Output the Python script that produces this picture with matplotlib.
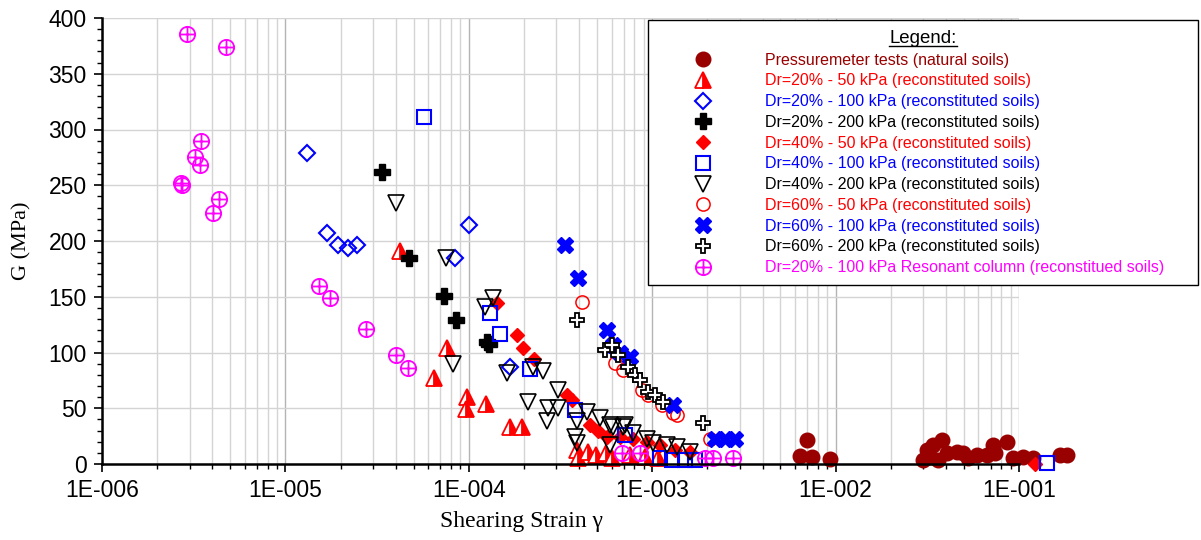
import matplotlib.pyplot as plt
from matplotlib.lines import Line2D
from matplotlib.path import Path
from matplotlib.transforms import IdentityTransform
from matplotlib.ticker import LogLocator, MultipleLocator, FuncFormatter, NullFormatter
import numpy as np

plt.rcParams['font.family'] = ['Liberation Sans', 'DejaVu Sans']

# ---- data: shear modulus G (MPa) vs shearing strain ----
pm_strain = [6.4e-3, 6.98e-3, 7.43e-3, 9.3e-3, 3.0e-2, 3.15e-2, 3.27e-2, 3.4e-2, 3.8e-2,
             3.61e-2, 4.05e-2, 4.59e-2, 4.95e-2, 5.27e-2, 5.9e-2, 6.7e-2, 7.21e-2, 7.4e-2,
             8.6e-2, 9.27e-2, 1.05e-1, 1.19e-1, 1.67e-1, 1.83e-1]
pm_G = [7, 21.5, 6, 4.5, 3.6, 12.6, 6, 17, 21.5,
        3.6, 10, 11, 10, 5.4, 8, 8, 17, 10,
        20, 5.4, 6, 5.4, 8, 8]

d20_50_strain = [4.22e-5, 7.6e-5, 6.46e-5, 9.78e-5, 9.66e-5, 1.24e-4, 1.68e-4, 1.95e-4,
                 3.89e-4, 3.95e-4, 4.47e-4, 4.94e-4, 5.6e-4, 6.04e-4, 7.57e-4, 9.14e-4, 1.08e-3]
d20_50_G = [191, 104, 77, 60, 49, 54, 33, 33,
            13, 5, 11, 8, 10, 5, 8, 6, 5]

d20_100_strain = [1.31e-5, 1.69e-5, 1.94e-5, 2.19e-5, 2.46e-5, 1.0e-4, 8.41e-5, 1.68e-4]
d20_100_G = [279, 207, 196, 194, 196, 214, 185, 87]

d20_200_strain = [3.36e-5, 4.72e-5, 7.33e-5, 8.51e-5, 1.26e-4, 1.29e-4]
d20_200_G = [262, 185, 151, 129, 109, 108]

d40_50_strain = [1.43e-4, 1.83e-4, 1.98e-4, 2.27e-4, 3.43e-4, 3.65e-4, 4.58e-4, 5.06e-4,
                 5.67e-4, 6.67e-4, 7.85e-4, 9.37e-4, 1.1e-3, 1.33e-3, 1.61e-3, 1.22e-1]
d40_50_G = [144, 116, 104, 94, 62, 57, 35, 30,
            24, 24, 22, 20, 17, 13, 11, 0]

d40_100_strain = [5.7e-5, 1.31e-4, 1.48e-4, 2.16e-4, 3.79e-4, 7.11e-4, 1.1e-3, 1.28e-3,
                  1.51e-3, 1.71e-3, 1.42e-1]
d40_100_G = [311, 135, 117, 85, 48, 26, 5, 4, 4, 4, 1]

d40_200_strain = [4.01e-5, 7.51e-5, 1.36e-4, 1.23e-4, 8.2e-5, 1.62e-4, 2.24e-4, 2.54e-4,
                  2.1e-4, 3.06e-4, 2.7e-4, 3.06e-4, 2.67e-4, 3.89e-4, 4.41e-4, 5.19e-4,
                  3.79e-4, 3.89e-4, 5.89e-4, 7.11e-4, 5.89e-4, 7.85e-4, 6.11e-4, 6.93e-4,
                  9.37e-4, 1.01e-3, 1.2e-3, 1.37e-3, 1.61e-3]
d40_200_G = [234, 185, 149, 141, 90, 82, 87, 83,
             56, 66, 50, 50, 39, 39, 47, 41,
             24, 19, 35, 35, 17, 28, 33, 33,
             22, 19, 17, 15, 11]

d60_50_strain = [4.14e-4, 6.27e-4, 6.93e-4, 8.8e-4, 9.49e-4, 1.13e-3, 1.3e-3, 1.37e-3, 2.07e-3]
d60_50_G = [145, 91, 84, 66, 62, 53, 46, 44, 22]

d60_100_strain = [3.35e-4, 3.94e-4, 5.67e-4, 6.11e-4, 6.67e-4, 7.57e-4, 1.3e-3,
                  2.2e-3, 2.49e-3, 2.83e-3]
d60_100_G = [196, 167, 120, 107, 100, 96, 53, 22, 22, 22]

d60_200_strain = [3.89e-4, 5.53e-4, 6.04e-4, 6.51e-4, 7.38e-4, 8.06e-4, 8.58e-4, 9.49e-4,
                  1.04e-3, 1.15e-3, 1.89e-3]
d60_200_G = [129, 102, 107, 98, 87, 80, 75, 65, 62, 56, 37]

rc_strain = [2.9e-6, 4.75e-6, 3.47e-6, 3.21e-6, 3.42e-6, 2.7e-6, 2.73e-6, 4.35e-6, 4.03e-6,
             1.52e-5, 1.75e-5, 2.75e-5, 4.01e-5, 4.66e-5, 6.84e-4, 8.58e-4, 1.94e-3,
             2.14e-3, 2.76e-3]
rc_G = [386, 374, 290, 275, 268, 252, 250, 238, 225,
        160, 149, 121, 98, 86, 10, 10, 5.4,
        5.4, 5.4]

labels = ['Pressuremeter tests (natural soils)',
          'Dr=20% - 50 kPa (reconstituted soils)',
          'Dr=20% - 100 kPa (reconstituted soils)',
          'Dr=20% - 200 kPa (reconstituted soils)',
          'Dr=40% - 50 kPa (reconstituted soils)',
          'Dr=40% - 100 kPa (reconstituted soils)',
          'Dr=40% - 200 kPa (reconstituted soils)',
          'Dr=60% - 50 kPa (reconstituted soils)',
          'Dr=60% - 100 kPa (reconstituted soils)',
          'Dr=60% - 200 kPa (reconstituted soils)',
          'Dr=20% - 100 kPa Resonant column (reconstitued soils)']
label_colors = ['#990000', 'red', 'blue', 'black', 'red', 'blue', 'black',
                'red', 'blue', 'black', 'magenta']

# circle with a cross inside
oplus = Path.make_compound_path(
    Path.unit_circle(),
    Path([(-1, 0), (1, 0)], [Path.MOVETO, Path.LINETO]),
    Path([(0, -1), (0, 1)], [Path.MOVETO, Path.LINETO]))

fig = plt.figure(figsize=(12.01, 5.40), dpi=100)
ax = fig.add_axes([102/1201, 76/540, 917/1201, 446/540])

kw = dict(ls='none', clip_on=False)
h = []
h += ax.plot(pm_strain, pm_G, marker='o', ms=10.5, mfc='#990000', mec='#990000', **kw)
h += ax.plot(d20_50_strain, d20_50_G, marker='^', ms=11.5, fillstyle='right', mfc='red',
             mfcalt='white', mec='red', mew=1.3, **kw)
h += ax.plot(d20_100_strain, d20_100_G, marker='D', ms=8, mfc='none', mec='blue', mew=1.5, **kw)
h += ax.plot(d20_200_strain, d20_200_G, marker='P', ms=11, mfc='black', mec='black', **kw)
h += ax.plot(d40_50_strain, d40_50_G, marker='D', ms=7.5, mfc='red', mec='red', **kw)
h += ax.plot(d40_100_strain, d40_100_G, marker='s', ms=10, mfc='none', mec='blue', mew=1.5, **kw)
h += ax.plot(d40_200_strain, d40_200_G, marker='v', ms=11.5, mfc='none', mec='black', mew=1.2, **kw)
h += ax.plot(d60_50_strain, d60_50_G, marker='o', ms=9.5, mfc='none', mec='red', mew=1.1, **kw)
h += ax.plot(d60_100_strain, d60_100_G, marker='X', ms=11.5, mfc='blue', mec='blue', **kw)
h += ax.plot(d60_200_strain, d60_200_G, marker='P', ms=10.5, mfc='white', mec='black', mew=1.3, **kw)
h += ax.plot(rc_strain, rc_G, marker=oplus, ms=11, mfc='none', mec='magenta', mew=1.3, **kw)

ax.set_xscale('log')
ax.set_xlim(1e-6, 1e-1)
ax.set_ylim(0, 400)

ax.xaxis.set_major_locator(LogLocator(base=10, numticks=10))
ax.xaxis.set_minor_locator(LogLocator(base=10, subs=np.arange(2, 10), numticks=20))
ax.xaxis.set_minor_formatter(NullFormatter())
ax.xaxis.set_major_formatter(FuncFormatter(lambda v, _: '1E-%03d' % round(-np.log10(v))))
ax.yaxis.set_major_locator(MultipleLocator(50))
ax.yaxis.set_minor_locator(MultipleLocator(10))

ax.grid(which='major', axis='y', color='#d4d4d4', lw=1)
ax.grid(which='major', axis='x', color='#b4b4b4', lw=1)
ax.grid(which='minor', axis='x', color='#d4d4d4', lw=1)
ax.set_axisbelow(True)

for s in ['top', 'right']:
    ax.spines[s].set_visible(False)
for s in ['left', 'bottom']:
    ax.spines[s].set_linewidth(1.8)

ax.tick_params(which='major', direction='out', length=6, width=1.2, labelsize=16.5, pad=5)
ax.tick_params(which='minor', direction='out', length=3.5, width=1)

fig.text(22/1201, 1 - 241/540, 'G (MPa)', rotation=90, ha='center', va='center',
         family='Liberation Serif', fontsize=16)
fig.text(521/1201, 1 - 522/540, 'Shearing Strain γ', ha='center', va='center',
         family='Liberation Serif', fontsize=17)

leg = ax.legend(h, labels, loc='upper left', mode='expand',
                bbox_to_anchor=(648/1201, 1 - 283/540, 550/1201, 263/540),
                bbox_transform=fig.transFigure, title='Legend:', fontsize=11.5,
                title_fontsize=13.4, borderpad=0.62, handlelength=5.65, handletextpad=1.05,
                labelspacing=0.36, borderaxespad=0, fancybox=False, framealpha=1,
                edgecolor='black', labelcolor=label_colors)
leg.get_frame().set_linewidth(1)

# underline the legend title
fig.canvas.draw()
tb = leg.get_title().get_window_extent()
fig.add_artist(Line2D([tb.x0, tb.x1], [tb.y0 + 1, tb.y0 + 1], transform=IdentityTransform(),
                      color='black', lw=1))

fig.savefig('out.png', dpi=100)
